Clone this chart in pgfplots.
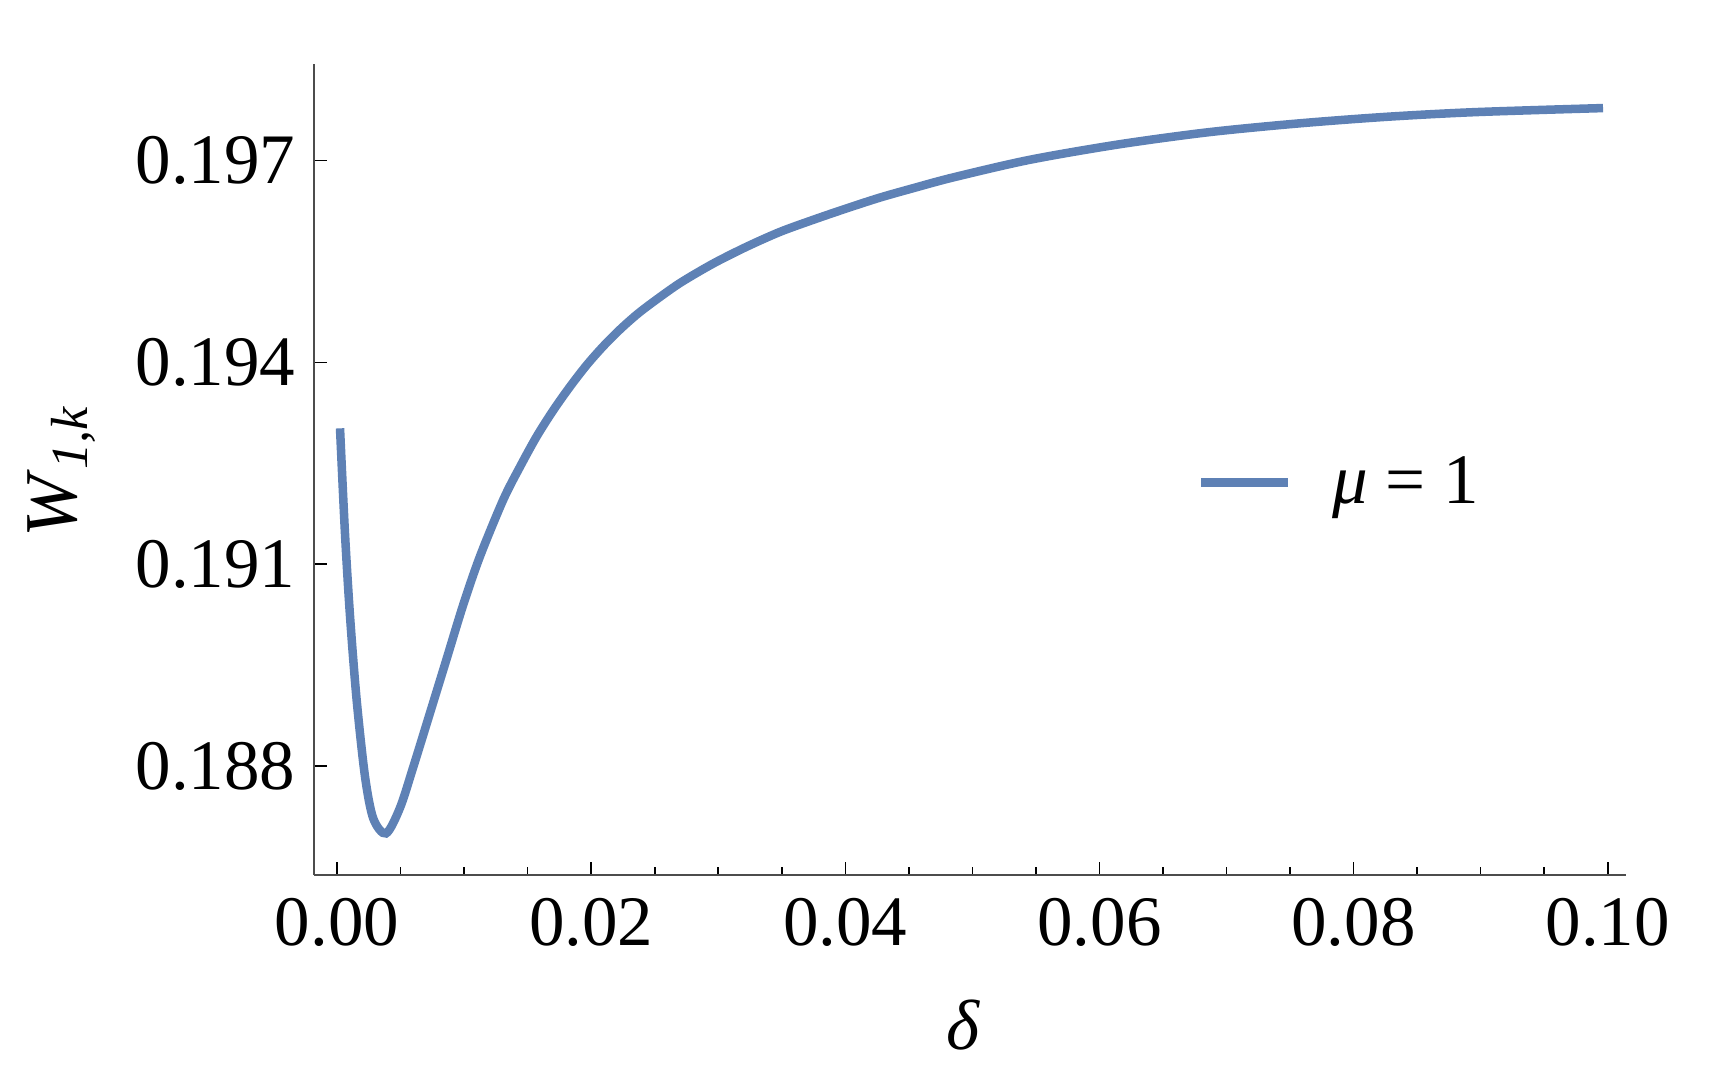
\documentclass[border=0pt]{standalone}
\usepackage{fontspec}
\setmainfont{Liberation Serif}
\usepackage{pgfplots}
\pgfplotsset{compat=1.18}
\definecolor{mblue}{rgb}{0.368417,0.506779,0.709798}

\begin{document}
\begin{tikzpicture}
\begin{axis}[
    width=369.8pt, height=228.5pt, scale only axis,
    axis lines=left,
    axis line style={-, line width=0.45pt, black!70},
    xmin=-0.00184, xmax=0.10147,
    ymin=0.186379, ymax=0.198434,
    xtick={0,0.02,0.04,0.06,0.08,0.1},
    minor x tick num=3,
    ytick={0.188,0.191,0.194,0.197},
    tick align=inside,
    major tick length=3.6pt, minor tick length=2.3pt,
    tick style={black, line width=0.45pt},
    every tick label/.append style={font=\fontsize{20}{24}\selectfont, inner sep=0pt},
    xticklabel style={/pgf/number format/.cd, fixed, fixed zerofill, precision=2, assume math mode=true},
    yticklabel style={/pgf/number format/.cd, fixed, fixed zerofill, precision=3, assume math mode=true},
    scaled ticks=false,
    xticklabel shift=6.4pt,
    yticklabel shift=5pt,
    xlabel={\textit{δ}},
    ylabel={\textit{W}\textsubscript{\textit{1,k}}},
    xlabel style={at={(axis description cs:0.495,0)}, anchor=center, yshift=-42.3pt, font=\fontsize{20}{24}\selectfont},
    ylabel style={at={(axis description cs:-0.1917,0.498)}, anchor=center, font=\fontsize{21}{25}\selectfont},
    legend style={draw=none, fill=none, inner sep=0pt, at={(rel axis cs:0.6725,0.484)}, anchor=west,
        nodes={inner sep=0pt}, column sep=11.3pt, font=\fontsize{20}{24}\selectfont},
    legend image code/.code={\draw[#1] (0pt,0pt) -- (24.4pt,0pt);},
]

\addplot[color=mblue, line width=2.4pt, smooth]
    coordinates {
    (0.00023,0.19302)(0.00062,0.19146)(0.00102,0.19022)(0.00154,0.18898)
    (0.00220,0.18784)(0.00285,0.18722)(0.00385,0.18700)(0.00495,0.18738)
    (0.00600,0.18799)(0.00731,0.18879)(0.00863,0.18960)(0.00993,0.19040)
    (0.01125,0.19112)(0.01308,0.19196)(0.01440,0.19245)(0.01571,0.19290)
    (0.01702,0.19329)(0.01833,0.19364)(0.01964,0.19396)(0.02095,0.19424)
    (0.02227,0.19449)(0.02358,0.19471)(0.02489,0.19490)(0.02699,0.19518)
    (0.02961,0.19547)(0.03224,0.19572)(0.03486,0.19594)(0.03748,0.19612)
    (0.04011,0.19629)(0.04273,0.19645)(0.04535,0.19659)(0.04850,0.19675)
    (0.05448,0.19701)(0.06151,0.19724)(0.06853,0.19742)(0.07556,0.19755)
    (0.08258,0.19765)(0.08961,0.19772)(0.09963,0.19778)
    };
\addlegendentry{\textit{μ} = 1}

\coordinate (bl) at (rel axis cs:-0.2390,-0.2597);
\coordinate (tr) at (rel axis cs:1.0698,1.0790);
\end{axis}
\pgfresetboundingbox
\path (bl) rectangle (tr);
\end{tikzpicture}
\end{document}
